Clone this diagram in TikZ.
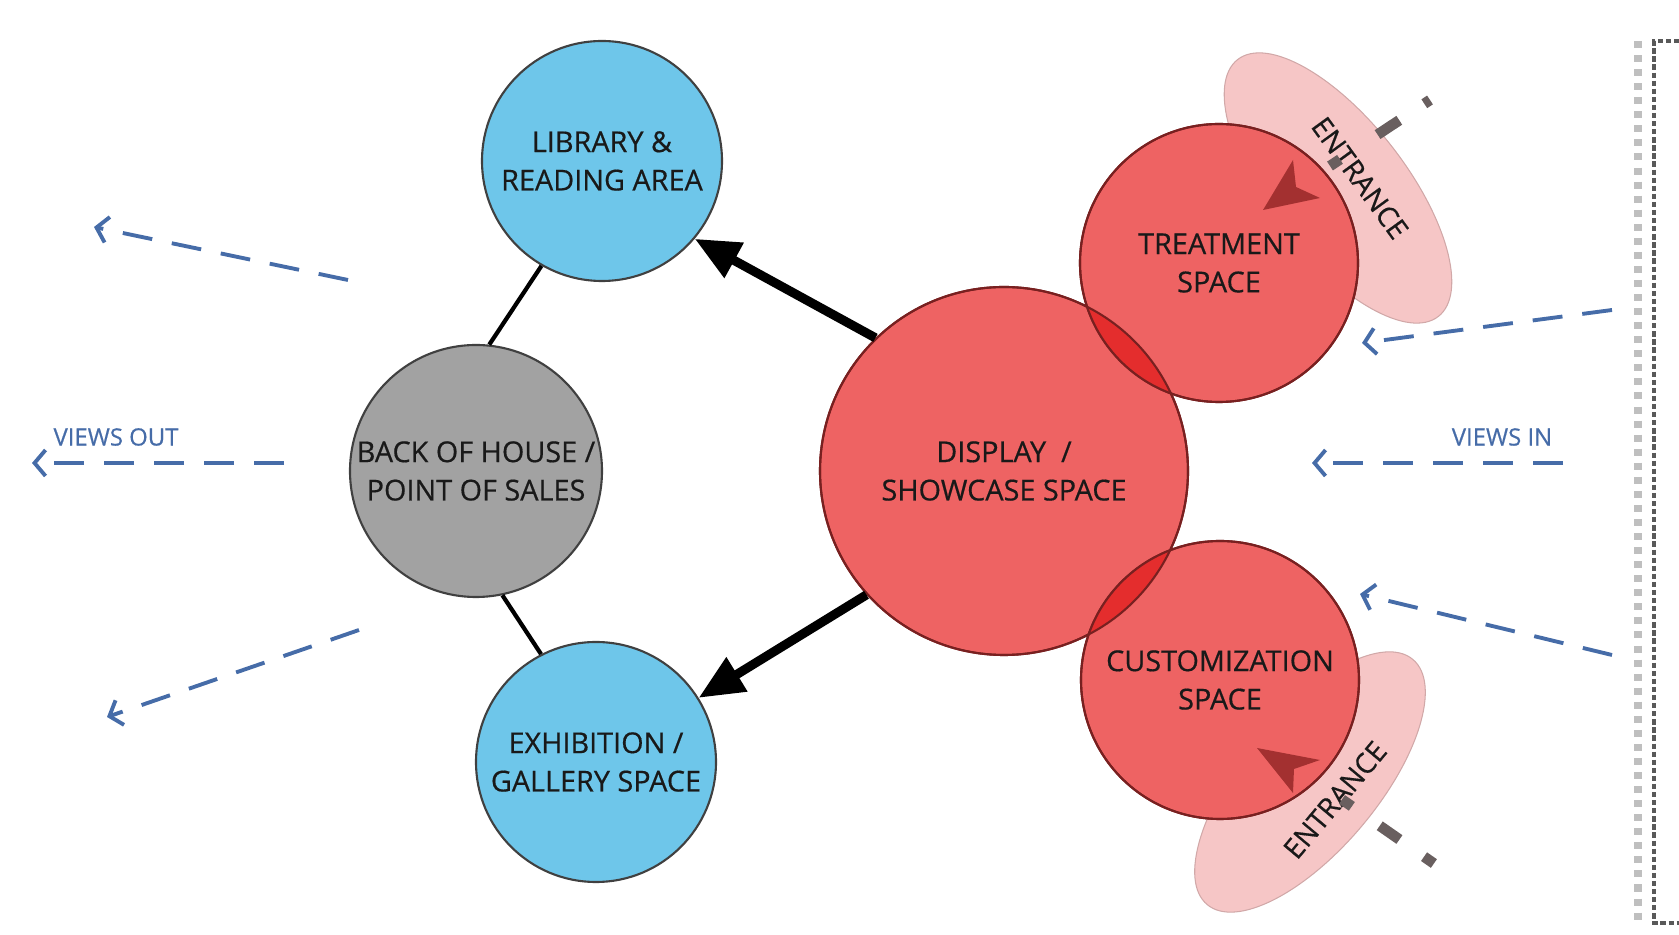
\documentclass[tikz,border=0pt]{standalone}
\usepackage{fontspec}
\setmainfont{Open Sans}
\newfontfamily\roomfont[FakeBold=0.5]{Open Sans}
\usetikzlibrary{arrows.meta}

\definecolor{spaceblue}{RGB}{110,198,234}
\definecolor{spacegray}{RGB}{162,162,162}
\definecolor{spacered}{RGB}{238,99,99}
\definecolor{overlapred}{RGB}{228,45,45}
\definecolor{entrypink}{RGB}{246,198,198}
\definecolor{viewblue}{RGB}{70,108,168}
\definecolor{doorred}{RGB}{150,40,40}
\definecolor{doorgray}{RGB}{105,95,95}

\tikzset{
  room/.style={circle, draw=black!75, line width=0.6pt, inner sep=0pt,
    align=center, text=black!90, font=\roomfont\fontsize{8.2}{10.9}\selectfont},
  redroom/.style={room, draw=doorred!80!black, fill=spacered},
  roomedge/.style={draw=doorred!80!black, line width=0.6pt},
  link/.style={line width=1.2pt},
  flow/.style={line width=2.6pt, -{Triangle[length=4.5mm,width=3.8mm]}},
  viewline/.style={viewblue, line width=1.1pt, dash pattern=on 0.3cm off 0.2cm,
    -{Straight Barb[length=1.1mm,width=2.6mm]}},
  viewlabel/.style={text=viewblue, font=\roomfont\fontsize{6.8}{8}\selectfont},
  entryzone/.style={fill=entrypink, draw=entrypink!85!black, line width=0.3pt},
  entrylabel/.style={text=black!90, font=\roomfont\fontsize{8}{10}\selectfont},
  doorline/.style={doorgray, line width=3pt}
}

\begin{document}
\begin{tikzpicture}

\useasboundingbox (0,0) rectangle (16.79,9.35);

% entrance zones
\draw[entryzone, rotate around={-52:(13.38,7.47)}] (13.38,7.47) ellipse (1.63 and 0.68);
\draw[entryzone, rotate around={50:(13.10,1.53)}] (13.10,1.53) ellipse (1.60 and 0.68);

% spaces
\node[room, fill=spaceblue, minimum size=2.40cm] (lib) at (6.02,7.74) {LIBRARY \&\\READING AREA};
\node[room, fill=spacegray, minimum size=2.52cm] (boh) at (4.76,4.64) {BACK OF HOUSE /\\POINT OF SALES};
\node[room, fill=spaceblue, minimum size=2.40cm] (exh) at (5.96,1.73) {EXHIBITION /\\GALLERY SPACE};

\node[redroom, minimum size=3.68cm] (disp) at (10.04,4.64) {DISPLAY \ /\\SHOWCASE SPACE};
\node[redroom, minimum size=2.78cm] (treat) at (12.19,6.72) {TREATMENT\\SPACE};
\node[redroom, minimum size=2.78cm] (cust) at (12.20,2.55) {CUSTOMIZATION\\SPACE};

% overlaps
\begin{scope}
  \clip (disp.center) circle (1.84);
  \fill[overlapred] (treat.center) circle (1.39);
  \fill[overlapred] (cust.center) circle (1.39);
\end{scope}
\draw[roomedge] (disp.center) circle (1.84);
\draw[roomedge] (treat.center) circle (1.39);
\draw[roomedge] (cust.center) circle (1.39);

% connections
\draw[link] (boh.84) -- (lib.240);
\draw[link] (boh.-78) -- (exh.117);
\draw[flow] (disp.134) -- (lib.-40);
\draw[flow] (disp.222) -- (exh.32);

% entrances
\fill[doorred, opacity=0.85] (12.63,7.25) -- (12.93,7.75) -- (12.96,7.48) -- (13.20,7.37) -- cycle;
\fill[doorred, opacity=0.85] (12.57,1.87) -- (13.20,1.75) -- (12.94,1.66) -- (12.93,1.42) -- cycle;
\node[entrylabel, rotate=-54] (ent1) at (13.60,7.57) {ENTRANCE};
\node[entrylabel, rotate=50] (ent2) at (13.35,1.35) {ENTRANCE};
\draw[doorline, dash pattern=on 0.12cm off 0.45cm on 0.26cm off 0.3cm on 0.12cm off 1cm]
  (13.30,7.69) -- (14.30,8.35);
\draw[doorline, dash pattern=on 0.12cm off 0.34cm on 0.24cm off 0.3cm on 0.12cm off 1cm]
  (13.42,1.355) -- (14.36,0.70);

% views
\coordinate (out1a) at (3.48,6.55);
\coordinate (out1b) at (0.94,7.08);
\coordinate (out2a) at (2.84,4.72);
\coordinate (out2b) at (0.32,4.72);
\coordinate (out3a) at (3.59,3.05);
\coordinate (out3b) at (1.07,2.18);
\coordinate (in1a) at (16.12,6.25);
\coordinate (in1b) at (13.62,5.92);
\coordinate (in2a) at (15.63,4.72);
\coordinate (in2b) at (13.12,4.72);
\coordinate (in3a) at (16.12,2.80);
\coordinate (in3b) at (13.60,3.41);

\draw[viewline] (out1a) -- (out1b);
\draw[viewline] (out2a) -- (out2b);
\draw[viewline] (out3a) -- (out3b);
\draw[viewline] (in1a) -- (in1b);
\draw[viewline] (in2a) -- (in2b);
\draw[viewline] (in3a) -- (in3b);

\node[viewlabel] (vout) at (1.16,4.98) {VIEWS OUT};
\node[viewlabel] (vin) at (15.02,4.98) {VIEWS IN};

% boundary
\draw[black!25, line width=2pt, dotted] (16.38,8.94) -- (16.38,0.12);
\draw[black!65, line width=1.2pt, dash pattern=on 1.5pt off 0.8pt]
  (16.79,8.94) -- (16.54,8.94) -- (16.54,0.12) -- (16.79,0.12);

\end{tikzpicture}
\end{document}
